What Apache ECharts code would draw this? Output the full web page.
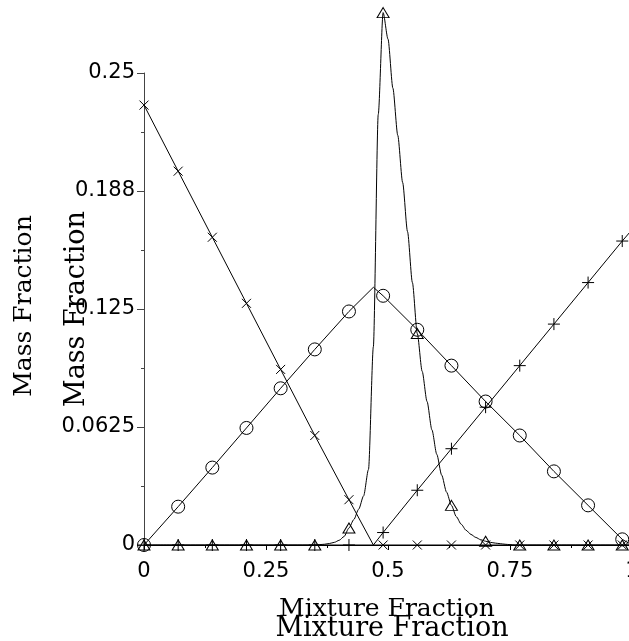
<!DOCTYPE html>
<html>
<head>
<meta charset="utf-8">
<script src="https://cdn.jsdelivr.net/npm/echarts@6/dist/echarts.min.js"></script>
<style>
html,body{margin:0;padding:0;background:#fff;overflow:hidden;}
#chart{width:629px;height:641px;}
</style>
</head>
<body>
<div id="chart"></div>
<script>
// marker positions along the curves (every 7th grid point)
const markerX = [0,0.07,0.14,0.21,0.28,0.35,0.42,0.49,0.56,0.63,0.70,0.77,0.84,0.91,0.98];

// "x" series
const fuelX = [0,0.07,0.14,0.21,0.28,0.35,0.42,0.47,0.49,0.56,0.63,0.70,0.77,0.84,0.91,0.98,1.0];
const fuelY = [0.233,0.198,0.163,0.128,0.093,0.058,0.024,0,0,0,0,0,0,0,0,0,0];

// "+" series
const prodX = [0,0.07,0.14,0.21,0.28,0.35,0.42,0.47,0.49,0.56,0.63,0.70,0.77,0.84,0.91,0.98,1.0];
const prodY = [0,0,0,0,0,0,0,0,0.0066,0.029,0.051,0.073,0.095,0.117,0.139,0.161,0.167];

// circle series
const circX = [0,0.07,0.14,0.21,0.28,0.35,0.42,0.47,0.49,0.56,0.63,0.70,0.77,0.84,0.91,0.98,1.0];
const circY = [0,0.0203,0.041,0.062,0.083,0.1036,0.1237,0.1365,0.132,0.114,0.095,0.076,0.058,0.039,0.021,0.003,0];

// triangle series
const triX = [0,0.07,0.14,0.21,0.28,0.35,0.36,0.37,0.38,0.39,0.40,0.41,0.42,0.43,0.44,0.45,0.46,0.47,0.48,0.49,0.50,
  0.51,0.52,0.53,0.54,0.55,0.56,0.57,0.58,0.59,0.60,0.61,0.62,0.63,0.64,0.65,0.66,0.67,0.68,0.69,0.70,
  0.71,0.72,0.73,0.74,0.75,0.76,0.77,0.84,0.91,0.98,1.0];
const triY = [0,0,0,0,0,0,0.0002,0.0004,0.0008,0.0014,0.0025,0.0045,0.009,0.0135,0.019,0.026,0.040,0.105,0.228,0.282,0.268,
  0.242,0.217,0.192,0.166,0.139,0.112,0.092,0.076,0.061,0.048,0.037,0.028,0.021,0.015,0.011,0.0078,0.0056,0.004,0.0028,0.002,
  0.0014,0.001,0.0007,0.0004,0.0002,0,0,0,0,0,0];

const xTickLabels = ['0','0.25','0.5','0.75','1'];
const yTickLabels = ['0','0.0625','0.125','0.188','0.25'];

const xTitle = 'Mixture Fraction';
const yTitle = 'Mass Fraction';

function isMarker(x){ return markerX.some(m => Math.abs(m - x) < 1e-6); }
function build(xs, ys, sym){
  return xs.map((x,i) => ({value:[x, ys[i]], symbol: isMarker(x) ? sym : 'none'}));
}

const PLUS = 'path://M0,5L10,5M5,0L5,10';
const CROSS = 'path://M0,0L10,10M0,10L10,0';

function lineSeries(xs, ys, sym, size, smooth){
  return {
    type:'line', data: build(xs, ys, sym), symbolSize:size, showAllSymbol:true,
    clip:false, smooth: smooth || false, smoothMonotone: 'x',
    lineStyle:{color:'#000', width:1},
    itemStyle:{color:'rgba(0,0,0,0)', borderColor:'#000', borderWidth:1},
    emphasis:{disabled:true}, animation:false, z:2
  };
}

const chart = echarts.init(document.getElementById('chart'), null, {renderer:'canvas'});
chart.setOption({
  backgroundColor:'#fff',
  animation:false,
  grid:{left:144, top:73, width:488, height:472, containLabel:false, outerBoundsMode:'none'},
  xAxis:{
    type:'value', min:0, max:1, interval:0.25,
    axisLine:{show:true, onZero:false, lineStyle:{color:'#000', width:1}},
    axisTick:{show:true, length:5, lineStyle:{color:'#000'}},
    minorTick:{show:true, splitNumber:2, length:3, lineStyle:{color:'#000'}},
    splitLine:{show:false},
    axisLabel:{
      margin:16, color:'#000', fontFamily:'DejaVu Sans', fontSize:21,
      formatter: v => xTickLabels[Math.round(v/0.25)]
    }
  },
  yAxis:{
    type:'value', min:0, max:0.25, interval:0.0625,
    axisLine:{show:true, lineStyle:{color:'#444', width:1}},
    axisTick:{show:true, length:7, lineStyle:{color:'#444'}},
    minorTick:{show:true, splitNumber:2, length:3, lineStyle:{color:'#444'}},
    splitLine:{show:false},
    axisLabel:{
      margin:9, color:'#000', fontFamily:'DejaVu Sans', fontSize:21,
      formatter: v => yTickLabels[Math.round(v/0.0625)]
    }
  },
  series:[
    lineSeries(fuelX, fuelY, CROSS, 9),
    lineSeries(prodX, prodY, PLUS, 12),
    lineSeries(circX, circY, 'circle', 13),
    lineSeries(triX, triY, 'triangle', [12,10], 0.25)
  ],
  graphic:[
    {type:'text', x:387, y:609, style:{text:xTitle, font:'25px "DejaVu Serif"', fill:'#000', textAlign:'center', textVerticalAlign:'middle'}},
    {type:'text', x:392, y:629, style:{text:xTitle, font:'27px "DejaVu Serif"', fill:'#000', textAlign:'center', textVerticalAlign:'middle'}},
    {type:'text', x:24, y:306, rotation:Math.PI/2, style:{text:yTitle, font:'25px "DejaVu Serif"', fill:'#000', textAlign:'center', textVerticalAlign:'middle'}},
    {type:'text', x:77, y:309, rotation:Math.PI/2, style:{text:yTitle, font:'27px "DejaVu Serif"', fill:'#000', textAlign:'center', textVerticalAlign:'middle'}}
  ]
});
</script>
</body>
</html>
